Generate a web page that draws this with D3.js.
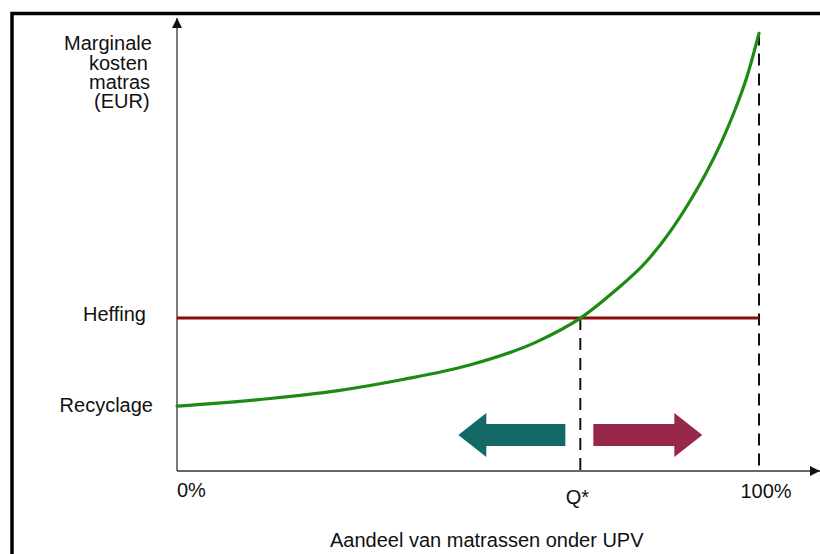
<!DOCTYPE html>
<html>
<head>
<meta charset="utf-8">
<script src="https://cdn.jsdelivr.net/npm/d3@7"></script>
<style>
  body { margin: 0; background: #fff; }
  svg text { font-family: "Liberation Sans", Arial, sans-serif; font-size: 20px; fill: #111; }
</style>
</head>
<body>
<div id="chart"></div>
<script>
// share of mattresses under UPV (%) and marginal cost (arbitrary units)
var share = [0, 16.0, 27.4, 38.8, 50.3, 61.8, 69.5, 75.0, 80.7, 84.7, 88.1, 91.0, 93.5, 95.6, 97.9, 100];
var marginalCost = [14.3, 16.0, 17.7, 20.2, 23.4, 28.5, 33.9, 39.5, 46.3, 52.8, 59.5, 66.0, 72.5, 78.8, 86.9, 96.6];
var heffing = 33.8;
var recyclage = 14.3;
var qStar = 69.3;
var xTicks = [0, qStar, 100];
var xTickLabels = ["0%", "Q*", "100%"];
var yTicks = [heffing, recyclage];
var yTickLabels = ["Heffing", "Recyclage"];
var yTitle = ["Marginale", "kosten", "matras", "(EUR)"];
var xTitle = "Aandeel van matrassen onder UPV";

var width = 820, height = 554;

var svg = d3.select("#chart").append("svg")
    .attr("width", width)
    .attr("height", height);

var x = d3.scaleLinear().domain([0, 100]).range([177, 759]);
var y = d3.scaleLinear().domain([0, 100]).range([471, 18]);

// frame round the picture (cut at right and bottom)
svg.append("rect")
    .attr("x", 12).attr("y", 13.5)
    .attr("width", 860).attr("height", 600)
    .attr("fill", "none")
    .attr("stroke", "#000")
    .attr("stroke-width", 3.5);

// arrow heads
var defs = svg.append("defs");
defs.append("marker")
    .attr("id", "axis-arrow")
    .attr("viewBox", "0 0 10 10")
    .attr("refX", 10).attr("refY", 5)
    .attr("markerWidth", 10).attr("markerHeight", 10)
    .attr("markerUnits", "userSpaceOnUse")
    .attr("orient", "auto")
    .append("path")
    .attr("d", "M0,0 L10,5 L0,10 Z")
    .attr("fill", "#111");

// axes
svg.append("line")
    .attr("x1", x(0)).attr("x2", x(0))
    .attr("y1", y(0)).attr("y2", y(100))
    .attr("stroke", "#333").attr("stroke-width", 1.3)
    .attr("marker-end", "url(#axis-arrow)");
svg.append("line")
    .attr("x1", x(0)).attr("x2", 820)
    .attr("y1", y(0)).attr("y2", y(0))
    .attr("stroke", "#333").attr("stroke-width", 1.3)
    .attr("marker-end", "url(#axis-arrow)");

// dashed guides down to the x axis
svg.append("line")
    .attr("x1", x(qStar)).attr("x2", x(qStar))
    .attr("y1", y(heffing)).attr("y2", y(0))
    .attr("stroke", "#111").attr("stroke-width", 2)
    .attr("stroke-dasharray", "12,8");
svg.append("line")
    .attr("x1", x(100)).attr("x2", x(100))
    .attr("y1", y(marginalCost[marginalCost.length - 1])).attr("y2", y(0))
    .attr("stroke", "#111").attr("stroke-width", 2)
    .attr("stroke-dasharray", "12,8");

// heffing line
svg.append("line")
    .attr("x1", x(0)).attr("x2", x(100))
    .attr("y1", y(heffing)).attr("y2", y(heffing))
    .attr("stroke", "#8c0a0a").attr("stroke-width", 3);

// marginal cost curve
var line = d3.line()
    .x(function(d, i) { return x(share[i]); })
    .y(function(d) { return y(d); })
    .curve(d3.curveMonotoneX);

svg.append("path")
    .datum(marginalCost)
    .attr("d", line)
    .attr("fill", "none")
    .attr("stroke", "#1d8a14")
    .attr("stroke-width", 3.2)
    .attr("stroke-linecap", "round");

// big arrows left / right of Q*
function bigArrow(tail, tip, color) {
  var dir = tip > tail ? 1 : -1;
  var base = tip - dir * 28;
  var mid = 435;
  var pts = [
    [tail, mid - 11], [base, mid - 11], [base, mid - 22], [tip, mid],
    [base, mid + 22], [base, mid + 11], [tail, mid + 11]
  ];
  svg.append("polygon")
    .attr("points", pts.map(function(p) { return p.join(","); }).join(" "))
    .attr("fill", color);
}
bigArrow(x(qStar) - 15, x(qStar) - 122, "#146866");
bigArrow(x(qStar) + 13, x(qStar) + 122, "#98284a");

// x tick labels
var xLab = svg.append("g");
xLab.selectAll("text").data(xTicks).enter().append("text")
    .attr("x", function(d) { return x(d); })
    .attr("y", function(d, i) { return [497, 504, 498][i]; })
    .attr("dx", function(d, i) { return [0, -3, 7][i]; })
    .attr("text-anchor", function(d, i) { return i === 0 ? "start" : "middle"; })
    .text(function(d, i) { return xTickLabels[i]; });

// y tick labels
var yLab = svg.append("g");
yLab.selectAll("text").data(yTicks).enter().append("text")
    .attr("x", function(d, i) { return [146, 153][i]; })
    .attr("y", function(d) { return y(d); })
    .attr("dy", function(d, i) { return [3, 6][i]; })
    .attr("text-anchor", "end")
    .text(function(d, i) { return yTickLabels[i]; });

// y axis title
svg.append("g").selectAll("text").data(yTitle).enter().append("text")
    .attr("x", function(d, i) { return [64, 89, 89, 94][i]; })
    .attr("y", function(d, i) { return [50, 69.5, 88.5, 108][i]; })
    .text(function(d) { return d; });

// x axis title
svg.append("text")
    .attr("x", 330).attr("y", 547)
    .text(xTitle);
</script>
</body>
</html>
